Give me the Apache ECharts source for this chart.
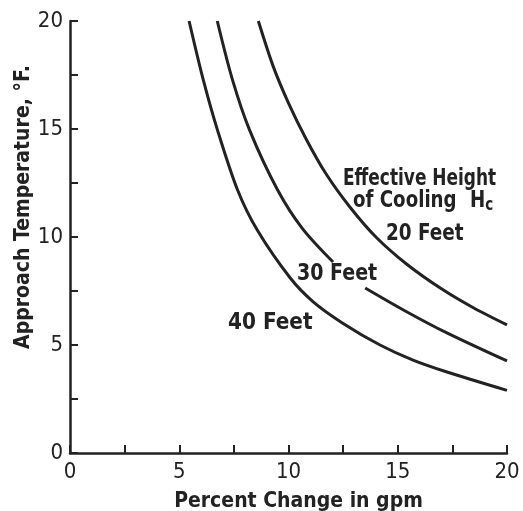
<!DOCTYPE html>
<html>
<head>
<meta charset="utf-8">
<script src="https://cdn.jsdelivr.net/npm/echarts@6/dist/echarts.min.js"></script>
<style>
  html, body { margin: 0; padding: 0; background: #fff; }
  #chart { width: 523px; height: 511px; }
</style>
</head>
<body>
<div id="chart"></div>
<script>
// Percent change in gpm (x) vs approach temperature (y) for three cooling heights
const pct20 = [8.62, 9.3, 10.0, 10.8, 11.7, 12.8, 14.0, 15.4, 17.0, 18.5, 20.0];
const temp20 = [20, 17.9, 16.2, 14.55, 12.95, 11.4, 10.0, 8.75, 7.6, 6.7, 5.93];

// the 30 ft curve is interrupted where its label sits (null entry)
const pct30 = [6.74, 7.43, 8.22, 9.49, 10.63, 12.04, 12.8, 13.51, 15.3, 17.25, 20.0];
const temp30 = [20, 17.3, 14.95, 12.2, 10.4, 8.84, null, 7.64, 6.6, 5.56, 4.26];

const pct40 = [5.45, 6.1, 6.75, 7.66, 8.57, 10.08, 11.13, 12.5, 14.19, 15.7, 17.25, 20.0];
const temp40 = [20, 17.27, 14.95, 12.2, 10.32, 8.1, 7.0, 6.0, 5.0, 4.3, 3.75, 2.9];

const xTicks = [0, 5, 10, 15, 20];
const yTicks = [0, 5, 10, 15, 20];

const X_TITLE = 'Percent Change in gpm';
const Y_TITLE = 'Approach Temperature, °F.';

const INK = '#222';
const FONT = "'DejaVu Sans Condensed', 'Liberation Sans', sans-serif";

function pairs(xs, ys) {
  return xs.map((x, i) => [x, ys[i] === null ? '-' : ys[i]]);
}

function curve(name, xs, ys) {
  return {
    name: name,
    type: 'line',
    data: pairs(xs, ys),
    smooth: 0.3,
    symbol: 'none',
    connectNulls: false,
    lineStyle: { color: INK, width: 3 },
    silent: true
  };
}

function axisCommon(ticks) {
  return {
    type: 'value',
    min: 0,
    max: 20,
    interval: 2.5,
    splitLine: { show: false },
    axisLine: { show: true, lineStyle: { color: INK, width: 2.5 } },
    axisTick: { show: true, inside: true, length: 8, lineStyle: { color: INK, width: 2 } },
    axisLabel: {
      color: INK,
      fontFamily: FONT,
      fontSize: 22,
      formatter: v => (ticks.indexOf(v) >= 0 ? String(v) : '')
    }
  };
}

const chart = echarts.init(document.getElementById('chart'), null, { renderer: 'canvas' });

const xAxis = axisCommon(xTicks);
xAxis.axisLabel.margin = 8;
xAxis.name = X_TITLE;
xAxis.nameLocation = 'middle';
xAxis.nameGap = 38;
xAxis.nameTextStyle = { color: INK, fontFamily: FONT, fontSize: 21, fontWeight: 'bold', padding: [0, 0, 0, 20] };

const yAxis = axisCommon(yTicks);
yAxis.axisLabel.margin = 7;

const LABEL_FONT = 'bold 23px ' + FONT;

function note(text, left, top, sx) {
  return { type: 'text', left: left, top: top, scaleX: sx, style: { text: text, fill: INK, font: LABEL_FONT } };
}

chart.setOption({
  animation: false,
  backgroundColor: '#fff',
  grid: { left: 70, right: 16, top: 21, bottom: 58, containLabel: false, outerBoundsMode: 'none' },
  xAxis: xAxis,
  yAxis: yAxis,
  series: [
    curve('20 Feet', pct20, temp20),
    curve('30 Feet', pct30, temp30),
    curve('40 Feet', pct40, temp40)
  ],
  graphic: [
    {
      // vertical axis title, reading bottom to top
      type: 'text', x: 24, y: 207, rotation: Math.PI / 2,
      style: {
        text: Y_TITLE, fill: INK, font: 'bold 21px ' + FONT,
        align: 'center', verticalAlign: 'middle'
      }
    },
    note('Effective Height', 343, 168, 0.82),
    {
      type: 'text', left: 353, top: 190, scaleX: 0.88,
      style: {
        text: 'of Cooling {h|H}{s|c}',
        fill: INK,
        font: LABEL_FONT,
        rich: {
          h: { fill: INK, font: LABEL_FONT, padding: [0, 0, 0, 8] },
          s: { fill: INK, font: 'bold 17px ' + FONT, padding: [8, 0, 0, 0] }
        }
      }
    },
    note('20 Feet', 386, 223, 0.89),
    note('30 Feet', 297, 263, 0.92),
    note('40 Feet', 228, 312, 0.97)
  ]
});
</script>
</body>
</html>
